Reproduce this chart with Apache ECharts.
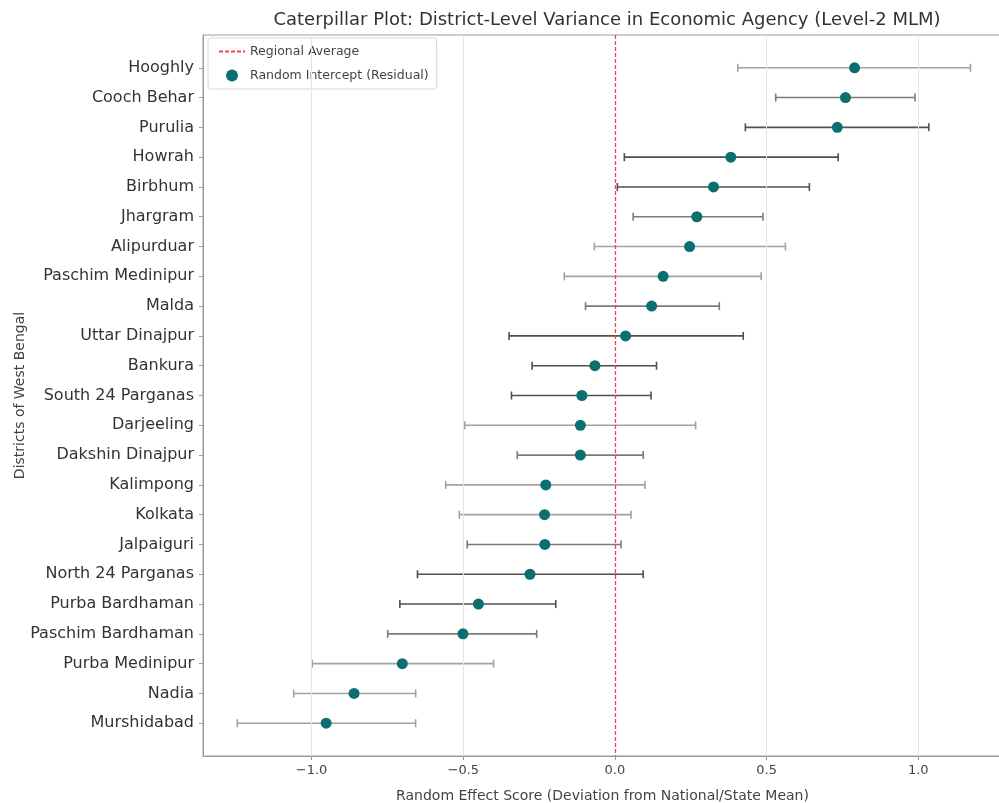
<!DOCTYPE html>
<html>
<head>
<meta charset="utf-8">
<script src="https://cdn.jsdelivr.net/npm/echarts@6/dist/echarts.min.js"></script>
<style>
  html, body { margin: 0; padding: 0; background: #fff; }
  #chart { width: 999px; height: 803px; }
</style>
</head>
<body>
<div id="chart"></div>
<script>
// districts ordered top to bottom
const districts = [
  'Hooghly', 'Cooch Behar', 'Purulia', 'Howrah', 'Birbhum', 'Jhargram', 'Alipurduar',
  'Paschim Medinipur', 'Malda', 'Uttar Dinajpur', 'Bankura', 'South 24 Parganas',
  'Darjeeling', 'Dakshin Dinajpur', 'Kalimpong', 'Kolkata', 'Jalpaiguri',
  'North 24 Parganas', 'Purba Bardhaman', 'Paschim Bardhaman', 'Purba Medinipur',
  'Nadia', 'Murshidabad'
];
const effect = [0.79, 0.76, 0.733, 0.382, 0.325, 0.27, 0.246, 0.159, 0.121, 0.035, -0.066, -0.109,
  -0.114, -0.114, -0.228, -0.232, -0.231, -0.28, -0.45, -0.501, -0.701, -0.86, -0.952];
const ciLow = [0.405, 0.53, 0.43, 0.031, 0.008, 0.06, -0.068, -0.167, -0.097, -0.349, -0.273, -0.341,
  -0.495, -0.322, -0.558, -0.513, -0.487, -0.651, -0.709, -0.749, -0.998, -1.059, -1.245];
const ciHigh = [1.172, 0.989, 1.035, 0.736, 0.641, 0.488, 0.562, 0.482, 0.344, 0.423, 0.137, 0.119,
  0.266, 0.093, 0.099, 0.053, 0.02, 0.093, -0.195, -0.258, -0.4, -0.657, -0.657];
const xTicks = [-1.0, -0.5, 0.0, 0.5, 1.0];
const regionalAverage = 0;

// error bar shade per row (0 dark, 1 mid, 2 light)
const shades = ['#4f4f4f', '#7b7b7b', '#a2a2a2'];
const barShade = [2, 1, 0, 0, 0, 1, 2, 2, 1, 0, 0, 0, 2, 1, 2, 2, 1, 0, 0, 1, 2, 2, 2];

const FONT = '"DejaVu Sans", sans-serif';
const RED = '#ea4550';
const idx = districts.map((d, i) => i);
const yMin = -1.1, yMax = districts.length - 1 + 1.1;

const chart = echarts.init(document.getElementById('chart'));

chart.setOption({
  animation: false,
  textStyle: { fontFamily: FONT },
  title: {
    text: 'Caterpillar Plot: District-Level Variance in Economic Agency (Level-2 MLM)',
    left: 602, top: 6, textAlign: 'center',
    textStyle: { fontSize: 18, fontWeight: 'normal', color: '#333', fontFamily: FONT }
  },
  legend: {
    orient: 'vertical', left: 208, top: 38,
    padding: [7, 8, 7, 10], itemGap: 11, itemWidth: 26, itemHeight: 12,
    borderColor: '#d6d6d6', borderWidth: 1, borderRadius: 3,
    textStyle: { fontSize: 12.5, color: '#444', fontFamily: FONT },
    data: [
      { name: 'Regional Average', itemStyle: { opacity: 0 } },
      { name: 'Random Intercept (Residual)' }
    ]
  },
  grid: {
    left: 203, right: -3, top: 35, bottom: 47, outerBoundsMode: 'none', containLabel: false,
    show: true, borderColor: '#9a9a9a', borderWidth: 1
  },
  xAxis: {
    type: 'value', min: -1.358, max: 1.276,
    name: 'Random Effect Score (Deviation from National/State Mean)',
    nameLocation: 'middle', nameGap: 33, nameMoveOverlap: false,
    nameTextStyle: { fontSize: 14, color: '#444', fontFamily: FONT },
    axisLine: { onZero: false, lineStyle: { color: '#9a9a9a' } },
    axisTick: { customValues: xTicks, length: 4, lineStyle: { color: '#9a9a9a' } },
    axisLabel: {
      customValues: xTicks, fontSize: 13, color: '#444', margin: 8,
      formatter: v => (v < 0 ? '\u2212' : '') + Math.abs(v).toFixed(1)
    },
    splitLine: { show: false }
  },
  yAxis: {
    type: 'value', min: yMin, max: yMax, inverse: true,
    name: 'Districts of West Bengal', nameLocation: 'middle', nameGap: 176, nameRotate: 90,
    nameMoveOverlap: false,
    nameTextStyle: { fontSize: 14, color: '#444', fontFamily: FONT },
    axisLine: { onZero: false, lineStyle: { color: '#9a9a9a' } },
    axisTick: { customValues: idx, length: 4, lineStyle: { color: '#9a9a9a' } },
    axisLabel: {
      customValues: idx, fontSize: 16, color: '#333', margin: 9,
      formatter: v => districts[Math.round(v)] || ''
    },
    splitLine: { show: false }
  },
  series: [
    {
      // vertical grid lines
      type: 'line', silent: true, data: [],
      markLine: {
        silent: true, symbol: 'none', label: { show: false },
        lineStyle: { color: '#e6e6e6', width: 1, type: 'solid' },
        data: xTicks.filter(t => t !== regionalAverage).map(t => ({ xAxis: t }))
      }
    },
    {
      name: 'Regional Average', type: 'line', symbol: 'none', z: 5,
      lineStyle: { color: RED, width: 1.3, type: [4, 2] },
      itemStyle: { color: RED },
      data: [],
      markLine: {
        silent: true, symbol: 'none', label: { show: false }, z: 5,
        lineStyle: { color: RED, width: 1.3, type: [4, 2] },
        data: [{ xAxis: regionalAverage }]
      }
    },
    {
      name: 'errorbars', type: 'custom', z: 3,
      data: districts.map((d, i) => [ciLow[i], ciHigh[i], i]),
      encode: { x: [0, 1], y: 2 },
      renderItem: (params, api) => {
        const a = api.coord([api.value(0), api.value(2)]);
        const b = api.coord([api.value(1), api.value(2)]);
        const col = shades[barShade[params.dataIndex]];
        const st = { stroke: col, lineWidth: 1.6 };
        return {
          type: 'group',
          children: [
            { type: 'line', shape: { x1: a[0], y1: a[1], x2: b[0], y2: b[1] }, style: st },
            { type: 'line', shape: { x1: a[0], y1: a[1] - 4, x2: a[0], y2: a[1] + 4 }, style: st },
            { type: 'line', shape: { x1: b[0], y1: b[1] - 4, x2: b[0], y2: b[1] + 4 }, style: st }
          ]
        };
      }
    },
    {
      name: 'Random Intercept (Residual)', type: 'scatter', z: 6,
      symbol: 'circle', symbolSize: 11,
      itemStyle: { color: '#0b6f70', opacity: 1 },
      data: districts.map((d, i) => [effect[i], i])
    }
  ]
});
</script>
</body>
</html>
